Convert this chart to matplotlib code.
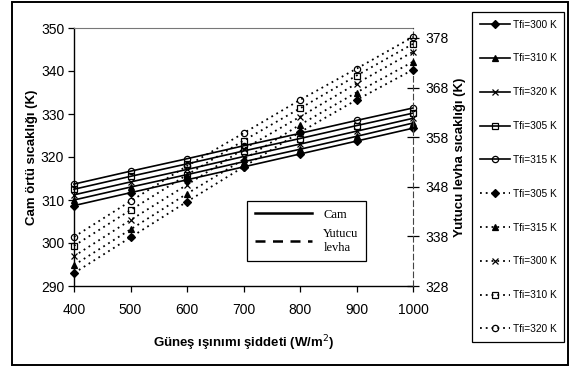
import matplotlib
matplotlib.use("Agg")
import matplotlib.pyplot as plt
from matplotlib.lines import Line2D
from matplotlib.patches import Rectangle

# ---- data ----
irradiance = [400, 500, 600, 700, 800, 900, 1000]

# Glass cover temperature (left axis, solid lines)
cam_300 = [308.7, 311.7, 314.7, 317.7, 320.7, 323.7, 326.7]
cam_310 = [310.0, 313.0, 315.9, 318.9, 321.8, 324.8, 327.9]
cam_320 = [311.2, 314.2, 317.1, 320.1, 323.0, 326.0, 329.0]
cam_305 = [312.5, 315.5, 318.4, 321.4, 324.3, 327.3, 330.2]
cam_315 = [313.7, 316.7, 319.6, 322.6, 325.5, 328.5, 331.4]

# Absorber plate temperature (right axis, dotted lines)
lev_305 = [330.6, 337.8, 345.0, 352.0, 359.0, 365.5, 371.6]
lev_315 = [332.2, 339.4, 346.6, 353.5, 360.5, 367.0, 373.2]
lev_300 = [334.0, 341.3, 348.4, 355.6, 362.1, 368.8, 375.2]
lev_310 = [336.1, 343.3, 350.4, 357.3, 363.8, 370.4, 376.8]
lev_320 = [337.9, 345.1, 352.2, 358.8, 365.5, 371.8, 378.2]

cam_series = [("Tfi=300 K", cam_300, "D", "k"),
              ("Tfi=310 K", cam_310, "^", "k"),
              ("Tfi=320 K", cam_320, "x", "k"),
              ("Tfi=305 K", cam_305, "s", "none"),
              ("Tfi=315 K", cam_315, "o", "none")]
lev_series = [("Tfi=305 K", lev_305, "D", "k"),
              ("Tfi=315 K", lev_315, "^", "k"),
              ("Tfi=300 K", lev_300, "x", "k"),
              ("Tfi=310 K", lev_310, "s", "none"),
              ("Tfi=320 K", lev_320, "o", "none")]

left_ticks = [290, 300, 310, 320, 330, 340, 350]
right_ticks = [328, 338, 348, 358, 368, 378]
x_ticks = [400, 500, 600, 700, 800, 900, 1000]

W, H = 571, 370
fig = plt.figure(figsize=(W / 100, H / 100), dpi=100)
fig.patch.set_facecolor("white")

ax = fig.add_axes([74 / W, 1 - 286 / H, (413 - 74) / W, (286 - 28) / H])
ax2 = ax.twinx()

msize = {"D": 4.5, "^": 5, "x": 5, "s": 4.5, "o": 4.5}
handles = []
for label, vals, m, fc in cam_series:
    ln, = ax.plot(irradiance, vals, color="k", lw=1.2, marker=m, ms=msize[m],
                  mfc=fc, mec="k", mew=0.9, clip_on=False, zorder=3, label=label)
    handles.append(ln)
for label, vals, m, fc in lev_series:
    ln, = ax2.plot(irradiance, vals, color="k", lw=1.3, ls=(0, (1, 2.2)), marker=m,
                   ms=msize[m], mfc=fc, mec="k", mew=0.9, clip_on=False, zorder=3,
                   label=label)
    handles.append(ln)

ax.set_xlim(400, 1000)
ax.set_ylim(290, 350)
ax2.set_ylim(328, 380)
ax.set_xticks(x_ticks)
ax.set_yticks(left_ticks)
ax2.set_yticks(right_ticks)

for lab in ax.get_xticklabels() + ax.get_yticklabels() + ax2.get_yticklabels():
    lab.set_fontfamily(["Liberation Sans", "DejaVu Sans"])
    lab.set_fontsize(10)

ax.tick_params(axis="x", direction="out", length=4, width=0.9, colors="k", pad=8)
ax.tick_params(axis="y", direction="out", length=4, width=0.9, colors="k", pad=3)
ax2.tick_params(axis="y", direction="inout", length=8, width=0.9, pad=5)

for s in ["left", "bottom"]:
    ax.spines[s].set_linewidth(1.0)
ax.spines["top"].set_color("#777777")
ax.spines["top"].set_linewidth(0.8)
ax2.spines["top"].set_visible(False)
ax2.spines["left"].set_visible(False)
ax2.spines["bottom"].set_visible(False)
ax2.spines["right"].set_linestyle((0, (5, 3)))
ax2.spines["right"].set_color("#444444")
ax.spines["right"].set_visible(False)

lbl_font = dict(fontfamily=["Liberation Sans", "DejaVu Sans"], fontweight="bold", fontsize=9.5)
ax.set_ylabel("Cam örtü sıcaklığı (K)", labelpad=2, **lbl_font)
ax2.set_ylabel("Yutucu levha sıcaklığı (K)", labelpad=4, **lbl_font)
ax.set_xlabel("Güneş ışınımı şiddeti (W/m$^2$)", labelpad=12, **lbl_font)

# inner legend (line-type key)
key = [Line2D([], [], color="k", lw=1.8), Line2D([], [], color="k", lw=1.8, ls=(0, (4, 3)))]
kl = ax.legend(key, ["Cam", "Yutucu\nlevha"], loc="upper left",
               bbox_to_anchor=((247 - 74) / (413 - 74), 1 - (201 - 28) / (286 - 28)),
               fancybox=False, edgecolor="k", framealpha=1, borderpad=0.6,
               borderaxespad=0, handlelength=4.6, handletextpad=0.9, labelspacing=0.6,
               prop={"family": "Liberation Serif", "size": 9})
kl.get_frame().set_linewidth(0.9)

# series legend (right)
leg = fig.legend(handles=handles, loc="upper left",
                 bbox_to_anchor=(472 / W, 1 - 12 / H), fancybox=False,
                 edgecolor="k", framealpha=1, borderpad=0.75, handlelength=3.0,
                 handletextpad=0.25, labelspacing=2.35, borderaxespad=0,
                 prop={"family": ["Liberation Sans", "DejaVu Sans"], "size": 7.3})
leg.get_frame().set_linewidth(0.9)

# outer frame
fig.patches.append(Rectangle((12 / W, 1 - 365 / H), (568 - 12) / W, (365 - 2) / H,
                             transform=fig.transFigure, fill=False, ec="k", lw=1.4))

fig.savefig("out.png", dpi=100)
